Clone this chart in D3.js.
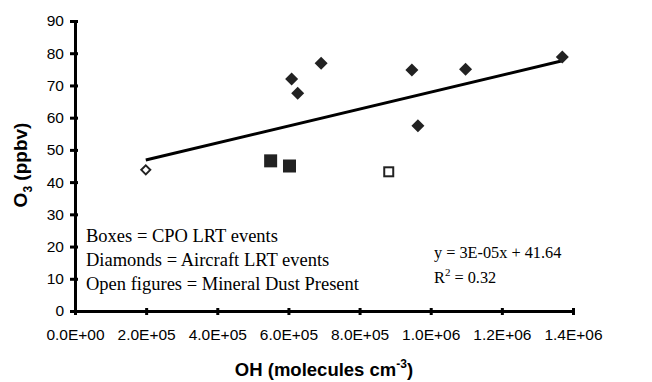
<!DOCTYPE html>
<html>
<head>
<meta charset="utf-8">
<script src="https://cdn.jsdelivr.net/npm/d3@7"></script>
<style>
  body { margin: 0; background: #fff; }
</style>
</head>
<body>
<div id="chart"></div>
<script>
// OH (molecules cm-3) vs O3 (ppbv)
const boxesFilled = [[5.50e5, 46.6], [6.03e5, 45.0]];
const boxesOpen = [[8.82e5, 43.2]];
const diamondsFilled = [
  [6.09e5, 72.0], [6.26e5, 67.6], [6.92e5, 76.9], [9.47e5, 74.8],
  [9.64e5, 57.5], [1.098e6, 75.0], [1.370e6, 78.8]
];
const diamondsOpen = [[1.99e5, 43.8]];
// trendline drawn from first to last x
const trendX = [1.99e5, 1.370e6];
const trendSlope = 2.63e-5, trendIntercept = 41.64;

const xTicks = [0, 2e5, 4e5, 6e5, 8e5, 1e6, 1.2e6, 1.4e6];
const yTicks = [0, 10, 20, 30, 40, 50, 60, 70, 80, 90];
const notes = ['Boxes = CPO LRT events', 'Diamonds = Aircraft LRT events', 'Open figures = Mineral Dust Present'];

const width = 652, height = 382;
const margin = { top: 21, right: 79, bottom: 71, left: 75 };
const w = width - margin.left - margin.right;
const h = height - margin.top - margin.bottom;

const svg = d3.select('#chart').append('svg')
  .attr('width', width).attr('height', height);
const g = svg.append('g').attr('transform', `translate(${margin.left},${margin.top})`);

const x = d3.scaleLinear().domain([0, 1.4e6]).range([0, w]);
const y = d3.scaleLinear().domain([0, 90]).range([h, 0]);

const fmt = d => d.toExponential(1).toUpperCase().replace(/E([+-])(\d)$/, 'E$10$2');
const sans = 'Liberation Sans, Arial, sans-serif';
const serif = 'Liberation Serif, Times New Roman, serif';

// axes
const xAxis = g.append('g')
  .attr('transform', `translate(0,${h})`)
  .call(d3.axisBottom(x).tickValues(xTicks).tickFormat(fmt).tickSize(6).tickSizeOuter(0).tickPadding(12));
const yAxis = g.append('g')
  .call(d3.axisLeft(y).tickValues(yTicks).tickSize(6).tickSizeOuter(0).tickPadding(5));

[xAxis, yAxis].forEach(a => {
  a.select('.domain').attr('stroke', '#000').attr('stroke-width', 3);
  a.selectAll('.tick line').attr('stroke', '#000').attr('stroke-width', 3);
  a.selectAll('text').attr('font-family', sans)
    .attr('font-size', 15.5).attr('fill', '#000');
});
xAxis.selectAll('.tick line').attr('y1', -3).attr('y2', 4);
yAxis.selectAll('.tick line').attr('x1', 3).attr('x2', -5);

// trendline
g.append('line')
  .attr('x1', x(trendX[0])).attr('y1', y(trendIntercept + trendSlope * trendX[0]))
  .attr('x2', x(trendX[1])).attr('y2', y(trendIntercept + trendSlope * trendX[1]))
  .attr('stroke', '#000').attr('stroke-width', 3);

// markers
const diamond = s => `M0,${-s}L${s},0L0,${s}L${-s},0Z`;
g.selectAll('path.dfill').data(diamondsFilled).enter().append('path')
  .attr('transform', d => `translate(${x(d[0])},${y(d[1])})`)
  .attr('d', diamond(6.5)).attr('fill', '#222');
g.selectAll('path.dopen').data(diamondsOpen).enter().append('path')
  .attr('transform', d => `translate(${x(d[0])},${y(d[1])})`)
  .attr('d', diamond(4.5)).attr('fill', '#fff').attr('stroke', '#222').attr('stroke-width', 2);
g.selectAll('rect.bfill').data(boxesFilled).enter().append('rect')
  .attr('x', d => x(d[0]) - 6.5).attr('y', d => y(d[1]) - 6.5)
  .attr('width', 13).attr('height', 13).attr('fill', '#222');
g.selectAll('rect.bopen').data(boxesOpen).enter().append('rect')
  .attr('x', d => x(d[0]) - 4.5).attr('y', d => y(d[1]) - 4.5)
  .attr('width', 9).attr('height', 9).attr('fill', '#fff').attr('stroke', '#222').attr('stroke-width', 2);

// notes
g.selectAll('text.note').data(notes).enter().append('text')
  .attr('x', 11).attr('y', (d, i) => 221 + i * 24)
  .attr('font-family', serif).attr('font-size', 18.5).attr('fill', '#000')
  .text(d => d);

g.append('text').attr('font-family', serif).attr('font-size', 16.3).attr('fill', '#000')
  .attr('x', 359).attr('y', 237).text('y = 3E-05x + 41.64');
const r2 = g.append('text').attr('font-family', serif).attr('font-size', 16.3).attr('fill', '#000')
  .attr('x', 359).attr('y', 262);
r2.append('tspan').text('R');
r2.append('tspan').attr('dy', -7).attr('font-size', 11).text('2');
r2.append('tspan').attr('dy', 7).text(' = 0.32');

// axis titles
const xt = svg.append('text').attr('x', 324).attr('y', 376)
  .attr('text-anchor', 'middle').attr('font-family', sans).attr('font-weight', 'bold')
  .attr('font-size', 18.5).attr('fill', '#000');
xt.append('tspan').text('OH (molecules cm');
xt.append('tspan').attr('dy', -8).attr('font-size', 12).text('-3');
xt.append('tspan').attr('dy', 8).text(')');

const yt = svg.append('text').attr('transform', 'translate(27,165) rotate(-90)')
  .attr('text-anchor', 'middle').attr('font-family', sans).attr('font-weight', 'bold')
  .attr('font-size', 19).attr('fill', '#000');
yt.append('tspan').text('O');
yt.append('tspan').attr('dy', 5).attr('font-size', 12).text('3');
yt.append('tspan').attr('dy', -5).text(' (ppbv)');
</script>
</body>
</html>
